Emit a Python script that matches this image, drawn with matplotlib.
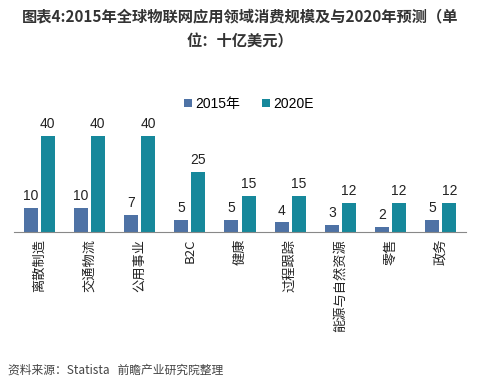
import matplotlib
matplotlib.use("Agg")
import matplotlib.pyplot as plt
import numpy as np

plt.rcParams['font.family'] = ['Noto Sans CJK SC', 'DejaVu Sans']

categories = ['离散制造', '交通物流', '公用事业', 'B2C', '健康', '过程跟踪', '能源与自然资源', '零售', '政务']
v2015 = [10, 10, 7, 5, 5, 4, 3, 2, 5]
v2020 = [40, 40, 40, 25, 15, 15, 12, 12, 12]
series_names = ['2015年', '2020E']
title = '图表4:2015年全球物联网应用领域消费规模及与2020年预测（单\n位：十亿美元）'
source = '资料来源：Statista   前瞻产业研究院整理'

c2015 = '#4E72A5'
c2020 = '#16889B'

fig = plt.figure(figsize=(4.8, 3.89), dpi=100)
ax = fig.add_axes([14/480, 1-232/389, 452/480, 132/389])

x = np.arange(len(categories))
w = 0.28
off = 0.17
b1 = ax.bar(x - off, v2015, w, color=c2015, label=series_names[0])
b2 = ax.bar(x + off, v2020, w, color=c2020, label=series_names[1])
for bars in (b1, b2):
    for r in bars:
        ax.text(r.get_x() + r.get_width()/2, r.get_height() + 2.0, f'{int(r.get_height())}',
                ha='center', va='bottom', fontsize=10, color='#222222', family='Liberation Sans')

ax.set_xlim(-0.5, len(categories) - 0.5)
ax.set_ylim(0, 55)
ax.set_yticks([])
for s in ['top', 'right', 'left']:
    ax.spines[s].set_visible(False)
ax.spines['bottom'].set_color('#888888')
ax.set_xticks(x)
ax.set_xticklabels(categories, rotation=90, fontsize=9.5, va='top', color='#222222')
ax.tick_params(axis='x', length=0, pad=5)

leg = ax.legend(loc='upper center', bbox_to_anchor=(0.52, 1.12), ncol=2, frameon=False,
                handlelength=0.55, handleheight=0.55, handletextpad=0.25, columnspacing=1.6,
                prop={'family': ['Liberation Sans', 'Noto Sans CJK SC'], 'size': 10})

fig.text(0.5, 1-29/389, title, ha='center', va='center', fontsize=11, fontweight='bold',
         color='#333333', linespacing=1.7)
fig.text(8/480, 1-370/389, source, ha='left', va='center', fontsize=8.5, style='italic',
         color='#444444')

fig.savefig('out.png', dpi=100)
